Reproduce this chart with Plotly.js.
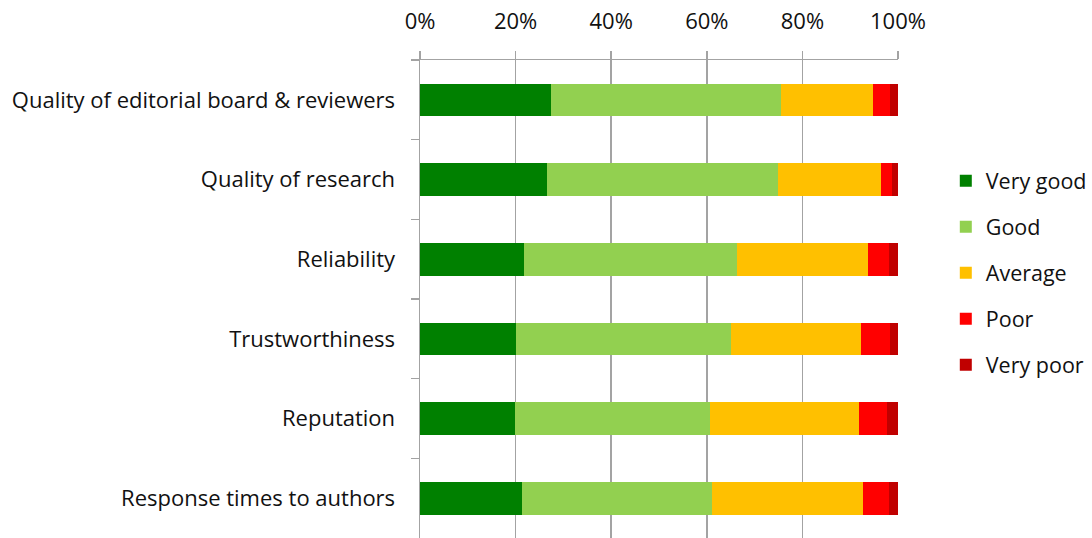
<!DOCTYPE html>
<html>
<head>
<meta charset="utf-8">
<script src="https://cdn.plot.ly/plotly-3.0.1.min.js"></script>
<style>html,body{margin:0;padding:0;background:#fff;}#chart{width:1092px;height:538px;}</style>
</head>
<body>
<div id="chart"></div>
<script>
const categories = [
  "Quality of editorial board & reviewers",
  "Quality of research",
  "Reliability",
  "Trustworthiness",
  "Reputation",
  "Response times to authors"
];
const seriesNames = ["Very good", "Good", "Average", "Poor", "Very poor"];
const veryGood = [27.5, 26.6, 21.7, 20.1, 19.9, 21.3];
const good     = [48.0, 48.2, 44.7, 44.9, 40.7, 39.7];
const average  = [19.3, 21.6, 27.4, 27.2, 31.3, 31.6];
const poor     = [3.6, 2.3, 4.3, 6.2, 5.7, 5.5];
const veryPoor = [1.6, 1.3, 1.9, 1.6, 2.4, 1.9];
const colors = ["#008000", "#92D050", "#FFC000", "#FF0000", "#C00000"];
const xTickVals = [0, 20, 40, 60, 80, 100];
const xTickText = ["0%", "20%", "40%", "60%", "80%", "100%"];

const values = [veryGood, good, average, poor, veryPoor];
const traces = values.map((v, i) => ({
  type: "bar",
  orientation: "h",
  name: seriesNames[i],
  x: v,
  y: categories,
  marker: {color: colors[i], line: {width: 0}},
  legendgroup: "g" + i,
  hoverinfo: "skip"
}));

const FONT = "Open Sans, Liberation Sans, Arial, sans-serif";
const TXT = "#111111";
const GRID = "#a3a3a3";
const layout = {
  width: 1092, height: 538,
  margin: {l: 420, r: 194, t: 60, b: 0, pad: 0},
  barmode: "stack",
  bargap: 0.59,
  paper_bgcolor: "#fff",
  plot_bgcolor: "#fff",
  font: {family: FONT, size: 22, color: TXT},
  showlegend: true,
  legend: {
    x: 1.1, xanchor: "left",
    y: 0.79, yanchor: "top",
    traceorder: "grouped",
    tracegroupgap: 15,
    font: {family: FONT, size: 21.5, color: TXT},
    bgcolor: "rgba(0,0,0,0)"
  },
  xaxis: {
    side: "top",
    range: [0, 100],
    tickvals: xTickVals,
    ticktext: xTickText,
    showgrid: true,
    gridcolor: GRID,
    gridwidth: 1.5,
    showline: true,
    linecolor: GRID,
    linewidth: 1.5,
    ticks: "outside",
    ticklen: 8,
    tickcolor: GRID,
    tickwidth: 1.5,
    ticklabelstandoff: 13,
    zeroline: false,
    fixedrange: true,
    tickfont: {family: FONT, size: 22, color: TXT}
  },
  yaxis: {
    type: "category",
    autorange: "reversed",
    tickson: "boundaries",
    ticks: "outside",
    ticklen: 8,
    tickcolor: GRID,
    tickwidth: 1.5,
    showgrid: false,
    showline: true,
    linecolor: GRID,
    linewidth: 1.5,
    ticklabelstandoff: 19,
    fixedrange: true,
    tickfont: {family: FONT, size: 22, color: TXT}
  }
};

Plotly.newPlot("chart", traces, layout, {displayModeBar: false, staticPlot: true});
</script>
</body>
</html>
